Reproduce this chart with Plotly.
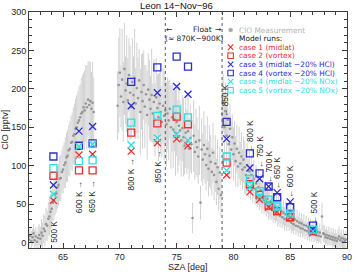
import plotly.graph_objects as go

# ---------------- measurement data (ClO, pptv) ----------------
seg1_sza = [62.0, 62.1, 62.2, 62.3, 62.4, 62.5, 62.6, 62.7, 62.8, 62.9,
            63.0, 63.1, 63.2, 63.3, 63.4, 63.5, 63.6, 63.7, 63.8, 63.9,
            64.0, 64.1, 64.2, 64.3, 64.4, 64.5, 64.6, 64.7, 64.8, 64.9,
            65.0, 65.1, 65.2, 65.3, 65.4, 65.5, 65.6, 65.7, 65.8, 65.9,
            66.0, 66.1, 66.2, 66.3, 66.4, 66.5, 66.6, 66.7, 66.8, 66.9,
            67.0, 67.1, 67.2, 67.3, 67.4, 67.5, 67.6, 67.7]
seg1_clo = [4, 9, 2, 7, 12, 3, 8, 1, 6, 10,
            5, 13, 9, 18, 15, 24, 22, 31, 34, 40,
            44, 52, 55, 63, 64, 72, 75, 83, 84, 92,
            95, 101, 104, 111, 113, 120, 122, 130, 131, 139,
            141, 148, 150, 156, 159, 163, 168, 170, 176, 172,
            181, 176, 186, 179, 184, 174, 182, 170]
seg1_err = [12, 10, 13, 11, 12, 14, 12, 13, 15, 14,
            16, 18, 17, 19, 20, 21, 20, 22, 24, 23,
            25, 24, 26, 27, 25, 28, 27, 29, 30, 28,
            31, 30, 33, 32, 34, 33, 36, 35, 38, 37,
            40, 39, 42, 41, 44, 43, 46, 48, 45, 52,
            50, 55, 49, 57, 51, 48, 53, 45]

seg2_sza = [69.8, 69.9, 70.0, 70.1, 70.2, 70.3, 70.4, 70.5, 70.6, 70.7,
            70.8, 70.9, 71.0, 71.1, 71.2, 71.3, 71.4, 71.5, 71.6, 71.7,
            71.8, 71.9, 72.0, 72.1, 72.2, 72.3, 72.4, 72.5, 72.6, 72.7,
            72.8, 72.9, 73.0, 73.1, 73.2, 73.3, 73.4, 73.5, 73.6, 73.7,
            73.8, 73.9, 74.0, 74.1, 74.2, 74.3, 74.4, 74.5, 74.6, 74.7,
            74.8, 74.9, 75.0, 75.1, 75.2, 75.3, 75.4, 75.5, 75.6, 75.7,
            75.8, 75.9, 76.0, 76.1, 76.2, 76.3, 76.4, 76.5, 76.6, 76.7,
            76.8, 76.9, 77.0, 77.1, 77.2, 77.3, 77.4, 77.5, 77.6, 77.7,
            77.8, 77.9, 78.0, 78.1, 78.2, 78.3, 78.4, 78.5, 78.6, 78.7,
            78.8, 78.9]
seg2_clo = [178, 205, 221, 190, 212, 183, 226, 198, 207, 185,
            218, 195, 176, 209, 192, 214, 181, 201, 188, 211,
            170, 196, 184, 205, 177, 193, 166, 199, 186, 174,
            192, 168, 183, 160, 189, 175, 163, 181, 170, 157,
            178, 165, 172, 154, 168, 159, 174, 150, 163, 147,
            160, 143, 157, 138, 152, 146, 133, 149, 137, 126,
            143, 131, 145, 122, 136, 128, 32, 139, 118, 131,
            124, 112, 133, 52, 121, 108, 127, 115, 101, 122,
            96, 113, 105, 92, 117, 88, 103, 79, 98, 70,
            91, 62]
seg2_err = [45, 62, 58, 40, 66, 52, 60, 44, 63, 55,
            48, 61, 42, 57, 50, 64, 46, 59, 53, 41,
            56, 49, 62, 45, 54, 38, 58, 47, 52, 43,
            60, 39, 55, 48, 51, 44, 57, 40, 53, 46,
            49, 58, 42, 55, 47, 52, 38, 54, 45, 50,
            41, 56, 44, 48, 52, 39, 47, 43, 51, 37,
            46, 42, 49, 40, 44, 38, 20, 47, 36, 43,
            39, 35, 45, 22, 41, 34, 44, 38, 33, 42,
            36, 40, 35, 31, 39, 33, 37, 30, 36, 29,
            34, 28]

seg3_sza = [79.0, 79.1, 79.2, 79.3, 79.4, 79.5, 79.6, 79.7, 79.8, 79.9,
            80.0, 80.1, 80.2, 80.3, 80.4, 80.5, 80.6, 80.7, 80.8, 80.9,
            81.0, 81.1, 81.2, 81.3, 81.4, 81.5, 81.6, 81.7, 81.8, 81.9,
            82.0, 82.1, 82.2, 82.3, 82.4, 82.5, 82.6, 82.7, 82.8, 82.9,
            83.0, 83.1, 83.2, 83.3, 83.4, 83.5, 83.6, 83.7, 83.8, 83.9,
            84.0, 84.1, 84.2, 84.3, 84.4, 84.5, 84.6, 84.7, 84.8, 84.9,
            85.0, 85.1, 85.2, 85.3, 85.4, 85.5, 85.6, 85.7, 85.8, 85.9,
            86.0, 86.1, 86.2, 86.3, 86.4, 86.5, 86.6, 86.7, 86.8, 86.9,
            87.0, 87.1, 87.2, 87.3, 87.4, 87.5, 87.6, 87.7, 87.8, 87.9,
            88.0, 88.1, 88.2, 88.3, 88.4, 88.5, 88.6, 88.7, 88.8, 88.9,
            89.0, 89.1, 89.2, 89.3, 89.4, 89.5, 89.6, 89.7, 89.8, 89.9]
seg3_clo = [168, 182, 150, 171, 139, 160, 128, 148, 121, 137,
            115, 129, 106, 122, 99, 117, 103, 112, 95, 108,
            98, 88, 101, 84, 93, 79, 88, 74, 83, 70,
            77, 66, 72, 61, 68, 58, 64, 55, 60, 51,
            57, 48, 53, 45, 50, 42, 47, 40, 45, 37,
            43, 35, 41, 33, 39, 31, 37, 29, 35, 28,
            33, 26, 31, 24, 30, 22, 28, 21, 26, 19,
            25, 18, 23, 16, 22, 15, 20, 13, 19, 12,
            17, 11, 16, 10, 14, 9, 13, 8, 34, 12,
            11, 7, 10, 6, 9, 5, 8, 4, 7, 3,
            6, 2, 5, 8, 3, 6, 1, 5, 2, 4]
seg3_err = [42, 38, 45, 36, 40, 34, 41, 33, 37, 30,
            35, 29, 33, 31, 27, 34, 28, 32, 26, 30,
            35, 25, 29, 24, 28, 23, 26, 22, 25, 21,
            24, 20, 23, 19, 22, 20, 21, 18, 20, 17,
            19, 18, 20, 16, 19, 17, 18, 15, 17, 16,
            18, 15, 17, 14, 16, 15, 16, 14, 15, 13,
            15, 14, 16, 13, 14, 12, 15, 13, 14, 12,
            13, 12, 14, 11, 13, 12, 13, 11, 12, 11,
            12, 10, 13, 11, 12, 10, 12, 10, 18, 11,
            12, 10, 11, 10, 12, 9, 11, 10, 12, 9,
            11, 10, 12, 13, 10, 11, 9, 12, 10, 11]

# ---------------- model runs ----------------
model_sza = [64.15, 66.4, 67.6, 71.0, 73.3, 75.0, 76.0,
             79.4, 81.45, 82.3, 83.1, 83.85, 85.0, 87.0]
case1_midlat = [55, 114, 115, 119, 130, 135, 126, 88, 66, 56, 46, 40, 33, 13]
case2_vortex = [87, 94, 94, 143, 155, 164, 154, 104, 76, 62, 48, 41, 33, 15]
case3_midlat_hcl = [75, 145, 151, 178, 195, 203, 193, 135, 97, 83, 73, 65, 53, 17]
case4_vortex_hcl = [112, 126, 129, 209, 228, 242, 229, 157, 116, 90, 73, 59, 46, 22]
case4_midlat_nox = [63, 125, 128, 127, 136, 141, 133, 94, 72, 60, 52, 46, 38, 15]
case5_vortex_nox = [97, 106, 107, 156, 165, 173, 163, 112, 83, 67, 56, 47, 38, 17]

# level labels
level_text = ["500 K", "600 K \u2192", "650 K \u2192", "800 K \u2192", "850 K \u2192",
              "\u2190 850 K", "\u2190 800 K", "\u2190 750 K", "\u2190 700 K",
              "\u2190 650 K", "\u2190 600 K", "\u2190 500 K"]
level_sza = [64.2, 66.4, 67.6, 71.0, 73.3, 79.3, 81.45, 82.3, 83.1, 83.85, 85.0, 87.1]
level_y = [14, 59, 59, 89, 99, 185, 139, 118, 99, 90, 79, 45]

float_bounds = [74.0, 79.0]

legend_labels = ["ClO Measurement", "Model runs:", "case 1 (midlat)", "case 2 (vortex)",
                 "case 3 (midlat \u221220% HCl)", "case 4 (vortex \u221220% HCl)",
                 "case 4 (midlat \u221220% NOx)", "case 5 (vortex \u221220% NOx)"]

RED = "rgb(238,45,45)"
BLUE = "rgb(45,45,205)"
CYAN = "rgb(40,225,225)"
GREY_DOT = "rgb(150,150,150)"
GREY_BAR = "rgb(210,210,210)"
FONT = "Liberation Sans"
LFONT = "DejaVu Sans"

fig = go.Figure()

for sz, cl, er in [(seg1_sza, seg1_clo, seg1_err),
                   (seg2_sza, seg2_clo, seg2_err),
                   (seg3_sza, seg3_clo, seg3_err)]:
    fig.add_trace(go.Scatter(
        x=sz, y=cl, mode="markers",
        marker=dict(color=GREY_DOT, size=2.6),
        error_y=dict(type="data", array=er, color=GREY_BAR, thickness=1, width=0),
        showlegend=False))

series = [(case1_midlat, "x-thin-open", RED), (case2_vortex, "square-open", RED),
          (case3_midlat_hcl, "x-thin-open", BLUE), (case4_vortex_hcl, "square-open", BLUE),
          (case4_midlat_nox, "x-thin-open", CYAN), (case5_vortex_nox, "square-open", CYAN)]
for vals, sym, col in series:
    fig.add_trace(go.Scatter(
        x=model_sza, y=vals, mode="markers",
        marker=dict(symbol=sym, size=7, color=col, line=dict(color=col, width=1.3)),
        showlegend=False))

# legend (drawn manually for compact spacing)
PLOT_TOP, PLOT_H = 12, 236
row_px = [30.0 + 8.6 * i for i in range(len(legend_labels))]
row_paper = [(PLOT_TOP + PLOT_H - p) / PLOT_H for p in row_px]
leg_colors = ["rgb(180,180,180)", "rgb(20,20,20)", RED, RED, BLUE, BLUE, CYAN, CYAN]
leg_symbols = ["circle", None, "x-thin-open", "square-open", "x-thin-open",
               "square-open", "x-thin-open", "square-open"]
for i, (lab, col, sym) in enumerate(zip(legend_labels, leg_colors, leg_symbols)):
    fig.add_annotation(x=0.6585, y=row_paper[i], xref="paper", yref="paper",
                       text=lab, showarrow=False, xanchor="left", yanchor="middle",
                       borderpad=0,
                       font=dict(family=LFONT, size=7.4, color=col))
    if sym:
        fig.add_trace(go.Scatter(
            x=[0.634], y=[row_paper[i]], xaxis="x2", yaxis="y2", mode="markers",
            marker=dict(symbol=sym, size=3.5 if sym == "circle" else 5.5,
                        color="rgb(160,160,160)" if sym == "circle" else col,
                        line=dict(color=col, width=1.1)),
            showlegend=False))

# level labels
for t, sx, yy in zip(level_text, level_sza, level_y):
    fig.add_annotation(x=sx, y=yy, text=t, showarrow=False, textangle=-90,
                       xanchor="center", yanchor="middle", borderpad=0,
                       font=dict(family=FONT, size=8.3, color="rgb(30,30,30)"))

# float region
for b in float_bounds:
    fig.add_shape(type="line", x0=b, x1=b, y0=0, y1=1, xref="x", yref="paper",
                  line=dict(color="rgb(90,90,90)", width=1, dash="dot"))
float_y_top = 277
float_y_bot = 265.5
fig.add_annotation(x=74.35, y=float_y_top, text="\u2190", showarrow=False, borderpad=0,
                   font=dict(family=LFONT, size=7.6, color="rgb(30,30,30)"))
fig.add_annotation(x=77.3, y=float_y_top, text="Float", showarrow=False, borderpad=0,
                   font=dict(family=LFONT, size=7.6, color="rgb(30,30,30)"))
fig.add_annotation(x=78.65, y=float_y_top, text="\u2192", showarrow=False, borderpad=0,
                   font=dict(family=LFONT, size=7.6, color="rgb(30,30,30)"))
fig.add_annotation(x=76.6, y=float_y_bot, text="(\u2248 870K\u2212900K)", showarrow=False,
                   borderpad=0,
                   font=dict(family=LFONT, size=7.4, color="rgb(30,30,30)"))

# titles
fig.add_annotation(x=(179 - 29) / 323, y=(PLOT_TOP + PLOT_H - 5) / PLOT_H,
                   xref="paper", yref="paper", text="Leon 14\u2212Nov\u221296",
                   showarrow=False, xanchor="center", yanchor="middle", borderpad=0,
                   font=dict(family=FONT, size=9.5, color="rgb(20,20,20)"))
fig.add_annotation(x=0.5, y=-0.079, xref="paper", yref="paper", text="SZA [deg]",
                   showarrow=False, xanchor="center", yanchor="middle",
                   font=dict(family=FONT, size=9, color="rgb(30,30,30)"))
fig.add_annotation(x=-0.076, y=0.5, xref="paper", yref="paper", text="ClO [pptv]",
                   showarrow=False, xanchor="center", yanchor="middle", textangle=-90,
                   font=dict(family=FONT, size=9, color="rgb(30,30,30)"))

axis_common = dict(showline=True, linecolor="rgb(60,60,60)", linewidth=1, mirror="ticks",
                   ticks="inside", ticklen=5, tickwidth=1, tickcolor="rgb(60,60,60)",
                   showgrid=False, zeroline=False,
                   tickfont=dict(family=FONT, size=9, color="rgb(30,30,30)"))
fig.update_layout(
    width=358, height=274,
    margin=dict(l=29, r=6, t=PLOT_TOP, b=274 - PLOT_TOP - PLOT_H),
    paper_bgcolor="white", plot_bgcolor="white",
    xaxis=dict(range=[62, 90], tick0=65, dtick=5,
               minor=dict(dtick=1, ticklen=3, ticks="inside", tickcolor="rgb(60,60,60)"),
               **axis_common),
    yaxis=dict(range=[-7, 300], tick0=0, dtick=50,
               minor=dict(dtick=10, ticklen=3, ticks="inside", tickcolor="rgb(60,60,60)"),
               **axis_common),
    xaxis2=dict(overlaying="x", range=[0, 1], visible=False),
    yaxis2=dict(overlaying="y", range=[0, 1], visible=False),
    showlegend=False,
)

fig.write_html("out.html")
